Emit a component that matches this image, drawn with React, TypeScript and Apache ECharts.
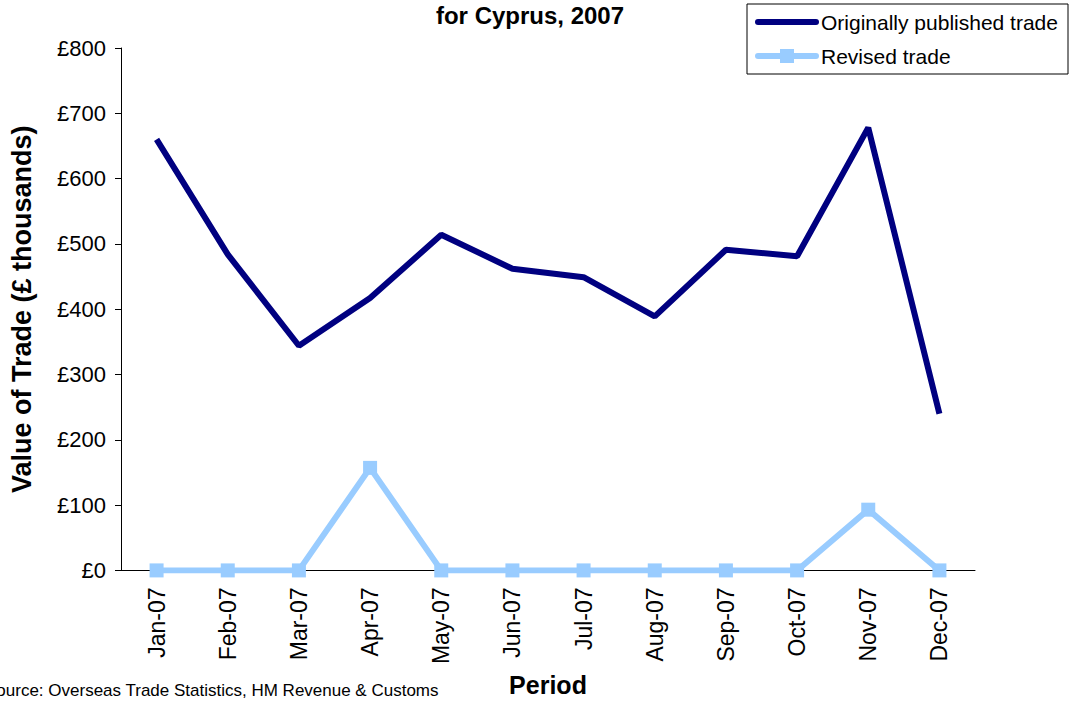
import React, { useEffect, useRef } from "react";
import * as echarts from "echarts";

const categories = ["Jan-07", "Feb-07", "Mar-07", "Apr-07", "May-07", "Jun-07", "Jul-07", "Aug-07", "Sep-07", "Oct-07", "Nov-07", "Dec-07"];
const originalTrade = [660, 484, 344, 417, 514, 462, 449, 389, 491, 481, 678, 240];
const revisedTrade = [0, 0, 0, 157, 0, 0, 0, 0, 0, 0, 93, 0];
const yTicks = [0, 100, 200, 300, 400, 500, 600, 700, 800];
const seriesNames = ["Originally published trade", "Revised trade"];
const colors = ["#000080", "#99CCFF"];

const FONT = "Liberation Sans, Arial, sans-serif";

export default function App() {
  const ref = useRef<HTMLDivElement>(null);
  useEffect(() => {
    const chart = echarts.init(ref.current!, null, { renderer: "svg" });
    chart.setOption({
      animation: false,
      textStyle: { fontFamily: FONT, color: "#000" },
      title: {
        text: "for Cyprus, 2007",
        left: 525,
        top: -2,
        textAlign: "center",
        textStyle: { fontSize: 24, fontWeight: "bold", color: "#000", fontFamily: FONT },
      },
      graphic: [
        {
          type: "rect",
          shape: { x: 747, y: 4, width: 321, height: 70 },
          style: { fill: "#fff", stroke: "#000", lineWidth: 1 },
        },
        {
          type: "line",
          shape: { x1: 758, y1: 22, x2: 816, y2: 22 },
          style: { stroke: colors[0], lineWidth: 6, lineCap: "round" },
        },
        {
          type: "text",
          x: 821,
          y: 22,
          style: { text: seriesNames[0], fontSize: 21, fill: "#000", fontFamily: FONT, verticalAlign: "middle" },
        },
        {
          type: "line",
          shape: { x1: 758, y1: 56, x2: 816, y2: 56 },
          style: { stroke: colors[1], lineWidth: 6, lineCap: "round" },
        },
        {
          type: "rect",
          shape: { x: 780, y: 49, width: 14, height: 14 },
          style: { fill: colors[1] },
        },
        {
          type: "text",
          x: 821,
          y: 56,
          style: { text: seriesNames[1], fontSize: 21, fill: "#000", fontFamily: FONT, verticalAlign: "middle" },
        },
        {
          type: "text",
          x: -15,
          y: 690,
          style: { text: "Source: Overseas Trade Statistics, HM Revenue & Customs", fontSize: 17, fill: "#000", fontFamily: FONT, verticalAlign: "middle" },
        },
      ],
      grid: { left: 120, right: 96, top: 48, bottom: 128, containLabel: false },
      xAxis: {
        type: "category",
        data: categories,
        boundaryGap: true,
        name: "Period",
        nameLocation: "middle",
        nameGap: 101,
        nameTextStyle: { fontSize: 25, fontWeight: "bold", color: "#000" },
        axisLine: { lineStyle: { color: "#000", width: 1 } },
        axisTick: { alignWithLabel: false, length: 6, lineStyle: { color: "#000" } },
        axisLabel: { rotate: 90, fontSize: 23, color: "#000", margin: 17, interval: 0 },
      },
      yAxis: {
        type: "value",
        min: yTicks[0],
        max: yTicks[yTicks.length - 1],
        interval: 100,
        name: "Value of Trade (£ thousands)",
        nameLocation: "middle",
        nameGap: 86,
        nameTextStyle: { fontSize: 27, fontWeight: "bold", color: "#000" },
        splitLine: { show: false },
        axisLine: { show: true, lineStyle: { color: "#000", width: 1 } },
        axisTick: { show: true, length: 6, lineStyle: { color: "#000" } },
        axisLabel: { fontSize: 22, color: "#000", margin: 15, formatter: (v: number) => "£" + v },
      },
      series: [
        {
          name: seriesNames[0],
          type: "line",
          data: originalTrade,
          symbol: "none",
          lineStyle: { color: colors[0], width: 6 },
          itemStyle: { color: colors[0] },
        },
        {
          name: seriesNames[1],
          type: "line",
          data: revisedTrade,
          symbol: "rect",
          symbolSize: 14,
          lineStyle: { color: colors[1], width: 6 },
          itemStyle: { color: colors[1] },
        },
      ],
    });
    return () => chart.dispose();
  }, []);
  return <div ref={ref} style={{ width: 1071, height: 702, position: "absolute", left: 0, top: 0 }} />;
}
